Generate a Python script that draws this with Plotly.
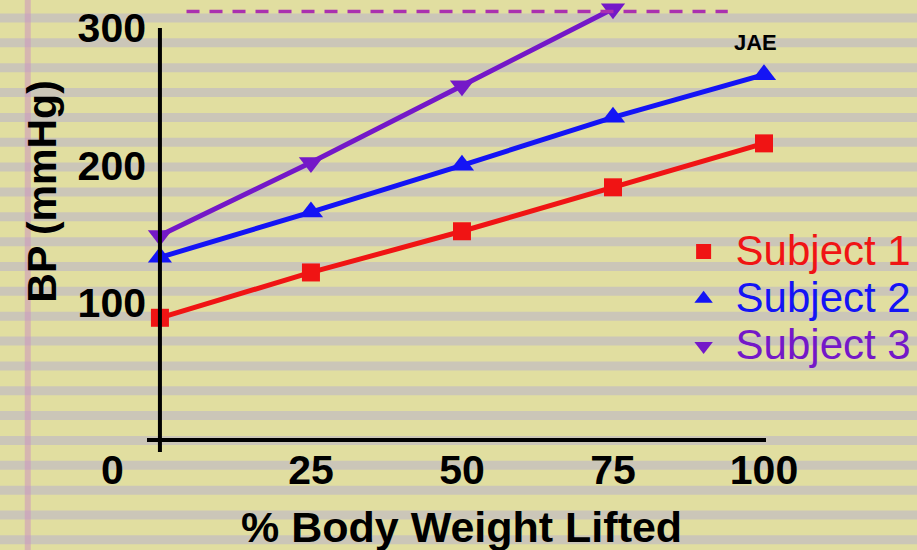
import plotly.graph_objects as go

# ---- data ----
pct_lifted = [0, 25, 50, 75, 100]
subject1 = [89, 122, 152, 184, 216]
subject2 = [133, 166, 200, 235, 266]
subject3 = [149, 202, 258, 314]
ref_x = [4.4, 94]
ref_y = [312, 312]
x_ticks = [25, 50, 75, 100]
y_ticks = [100, 200, 300]
series_names = ["Subject 1", "Subject 2", "Subject 3"]

RED = "#f01414"
BLUE = "#1414f5"
PURPLE = "#7418c8"
MAGENTA = "#aa30b0"
FONT = "Liberation Sans"

W, H = 917, 550
L, R, T, B = 147, 147, 0, 98
PW, PH = W - L - R, H - T - B
X_RANGE = [-2.14, 100.33]
Y_RANGE = [-8.74, 320.4]

fig = go.Figure()

common = dict(mode="lines+markers", cliponaxis=False, showlegend=False, hoverinfo="skip")
fig.add_trace(go.Scatter(x=pct_lifted, y=subject1, line=dict(color=RED, width=5),
                         marker=dict(symbol="square", size=18, color=RED), **common))
fig.add_trace(go.Scatter(x=pct_lifted, y=subject2, line=dict(color=BLUE, width=5),
                         marker=dict(symbol="triangle-up", size=21, color=BLUE), **common))
fig.add_trace(go.Scatter(x=pct_lifted[:len(subject3)], y=subject3, line=dict(color=PURPLE, width=5),
                         marker=dict(symbol="triangle-down", size=21, color=PURPLE), **common))
fig.add_trace(go.Scatter(x=ref_x, y=ref_y, mode="lines", cliponaxis=False, showlegend=False,
                         line=dict(color=MAGENTA, width=3.5, dash="13px,10px"), hoverinfo="skip"))

# legend-only entries
for name, col, sym, sz in zip(series_names, [RED, BLUE, PURPLE],
                              ["square", "triangle-up", "triangle-down"], [15, 17, 17]):
    fig.add_trace(go.Scatter(x=[None], y=[None], mode="markers",
                             marker=dict(symbol=sym, size=sz, color=col),
                             name=f"<span style='color:{col};font-size:42px'>{name}</span>"))

def py2paper(py):
    return (H - B - py) / PH
def px2paper(px):
    return (px - L) / PW

shapes = []
# background stripes (lined paper)
k = 0
while True:
    c = 18 + k * 24.85
    if c - 5 > H:
        break
    shapes.append(dict(type="rect", xref="paper", yref="paper", layer="below",
                       x0=px2paper(-5), x1=px2paper(W + 5),
                       y0=py2paper(c - 4.5), y1=py2paper(c + 4.5),
                       fillcolor="#cbc6b8", line=dict(width=0)))
    k += 1
# pinkish margin line
shapes.append(dict(type="rect", xref="paper", yref="paper", layer="below",
                   x0=px2paper(24), x1=px2paper(30), y0=py2paper(-5), y1=py2paper(H + 5),
                   fillcolor="rgba(205,150,190,0.55)", line=dict(width=0)))
# vertical axis line (from bottom of range up to top tick)
shapes.append(dict(type="line", xref="x", yref="y", x0=0, x1=0,
                   y0=Y_RANGE[0], y1=max(y_ticks), line=dict(color="black", width=4)))

tick_font = dict(family=FONT, size=41, color="black", weight="bold")
annotations = [
    dict(text="0", x=0, y=0, xref="x", yref="y", showarrow=False, xshift=-47, yshift=-30,
         xanchor="center", yanchor="middle", font=tick_font),
    dict(text="BP (mmHg)", x=px2paper(41), y=py2paper(192), xref="paper", yref="paper",
         xanchor="center", yanchor="middle", showarrow=False, textangle=-90,
         font=dict(family=FONT, size=41, color="black", weight="bold")),
    dict(text="% Body Weight Lifted", x=px2paper(464), y=py2paper(527), xref="paper", yref="paper",
         xanchor="center", yanchor="middle", showarrow=False,
         font=dict(family=FONT, size=43, color="black", weight="bold")),
    dict(text="JAE", x=px2paper(759), y=py2paper(42), xref="paper", yref="paper",
         xanchor="center", yanchor="middle", showarrow=False,
         font=dict(family=FONT, size=22, color="black", weight="bold")),
]

fig.update_layout(
    width=W, height=H,
    margin=dict(l=L, r=R, t=T, b=B),
    paper_bgcolor="#e1dea0",
    plot_bgcolor="rgba(0,0,0,0)",
    shapes=shapes,
    annotations=annotations,
    showlegend=True,
    legend=dict(x=px2paper(675), y=py2paper(223), xanchor="left", yanchor="top",
                bgcolor="rgba(0,0,0,0)", itemwidth=54,
                font=dict(family=FONT, size=34),
                tracegroupgap=0, itemsizing="trace"),
    xaxis=dict(range=X_RANGE, tickvals=x_ticks, ticktext=[str(v) for v in x_ticks],
               showgrid=False, zeroline=False, showline=False, ticks="",
               ticklabelstandoff=-10, tickfont=tick_font),
    yaxis=dict(range=Y_RANGE, tickvals=y_ticks, ticktext=[str(v) for v in y_ticks],
               showgrid=False, zeroline=True, zerolinecolor="black", zerolinewidth=4,
               showline=False, ticks="", tickfont=tick_font),
)

fig.write_html("out.html", config={"displayModeBar": False},
               post_script="document.body.style.margin='0';")
